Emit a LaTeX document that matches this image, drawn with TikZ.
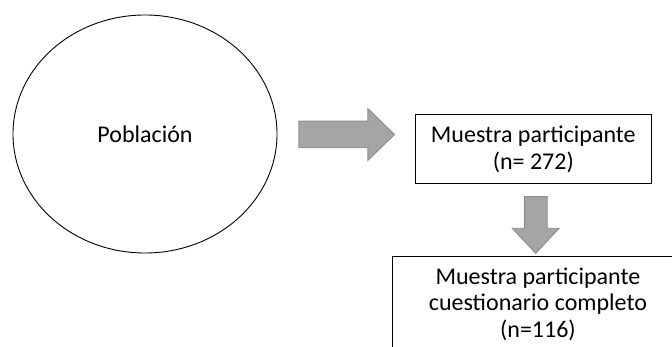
\documentclass[tikz,border=0pt]{standalone}
\usepackage{fontspec}
\setmainfont{Carlito}
\usetikzlibrary{shapes.geometric,calc}
\definecolor{arrowfill}{HTML}{A5A5A5}
\definecolor{arrowedge}{HTML}{8C8C8C}
\begin{document}
\begin{tikzpicture}[x=1pt,y=1pt,
  every node/.style={font=\fontsize{24}{26.3}\selectfont, text=black},
  stage/.style={draw=black, line width=0.9pt, inner sep=0pt, align=center, text depth=0pt},
  blockarrow/.style={fill=arrowfill, draw=arrowedge, line width=0.9pt, line join=miter}]
\useasboundingbox (0,0) rectangle (672,-347);
\clip (0,0) rectangle (672,-347);

% population ellipse
\node[ellipse, draw=black, line width=0.9pt, minimum width=264pt,
      minimum height=238pt, inner sep=0pt] (pob) at (145,-134) {Población};

% sample boxes (text height places the last baseline inside the box)
\node[stage, minimum width=235.3pt, minimum height=69.3pt, text height=41.2pt]
  (m1) at (533.3,-148.7) {Muestra participante\\(n= 272)};
\node[stage, anchor=north west, minimum width=291.6pt, minimum height=104pt,
      text height=57.4pt]
  (m2) at (391.7,-256) {Muestra participante\\cuestionario completo\\(n=116)};

% block arrow: population -> participating sample
\coordinate (a1s) at ($(pob.east)+(21.3,-0.5)$);
\coordinate (a1e) at ($(m1.west)+(-20.7,14.2)$);
\draw[blockarrow] ($(a1s)+(0,13.3)$) -- ($(a1e)+(-26.7,13.3)$) -- ($(a1e)+(-26.7,26)$)
  -- (a1e) -- ($(a1e)+(-26.7,-26)$) -- ($(a1e)+(-26.7,-13.3)$) -- ($(a1s)+(0,-13.3)$) -- cycle;

% block arrow: participating sample -> complete questionnaire
\coordinate (a2s) at ($(m1.south)+(2.4,-12.7)$);
\coordinate (a2e) at ($(m2.north west)+(144,2.7)$);
\draw[blockarrow] ($(a2s)+(-11.4,0)$) -- ($(a2s)+(11.4,0)$) -- ($(a2e)+(11.4,25)$)
  -- ($(a2e)+(23.4,25)$) -- (a2e) -- ($(a2e)+(-23.4,25)$) -- ($(a2e)+(-11.4,25)$) -- cycle;
\end{tikzpicture}
\end{document}
